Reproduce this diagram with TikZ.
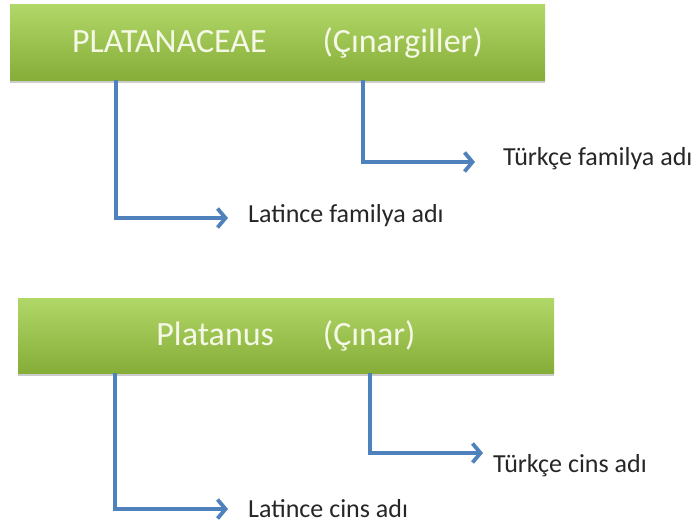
\documentclass[tikz,border=0pt]{standalone}
\usepackage{fontspec}
\setmainfont{Carlito}
\definecolor{LeafTop}{HTML}{B1D768}
\definecolor{LeafMid}{HTML}{9CC64A}
\definecolor{LeafBottom}{HTML}{86AD38}
\definecolor{ArrowBlue}{HTML}{4F81BD}
\definecolor{BoxText}{HTML}{F5F8E6}
\usetikzlibrary{
  arrows.meta,
  positioning,
  shadows
}

\begin{document}
\begin{tikzpicture}[
  x=1pt, y=-1pt,
  namebox/.style={
    rectangle, draw=none,
    top color=LeafTop, middle color=LeafMid, bottom color=LeafBottom,
    drop shadow={shadow xshift=0pt, shadow yshift=-2.5pt, fill=black!40},
    inner sep=0pt, text=BoxText,
    font=\fontsize{34}{40}\selectfont
  },
  labelbox/.style={
    anchor=west, inner sep=0pt, text=black!85,
    font=\fontsize{26}{31}\selectfont
  },
  conn/.style={
    -{Straight Barb[length=8pt,width=19pt]}, line width=3.8pt, ArrowBlue
  }
]
  \useasboundingbox (0,0) rectangle (698,527);

  % Family (top)
  \node[namebox, minimum width=535pt, minimum height=75pt] (famname)
    at (277.5,42.5) {PLATANACEAE\hspace{56pt}(Çınargiller)};
  \node[labelbox] (latfam) at (248,216) {Latince familya adı};
  \node[labelbox] (turfam) at (503,159) {Türkçe familya adı};

  % Genus (bottom)
  \node[namebox, minimum width=536pt, minimum height=75pt] (genname)
    at (286,335.5) {Platanus\hspace{49pt}(Çınar)};
  \node[labelbox] (latgen) at (248,509) {Latince cins adı};
  \node[labelbox] (turgen) at (493,466) {Türkçe cins adı};

  % Connections
  \draw[conn, shorten >=20pt] ([xshift=106pt]famname.south west) |- ([yshift=-2pt]latfam.west);
  \draw[conn, shorten >=28pt] ([xshift=353pt]famname.south west) |- ([yshift=-3pt]turfam.west);
  \draw[conn, shorten >=20pt] ([xshift=97pt]genname.south west) |- (latgen.west);
  \draw[conn, shorten >=10pt] ([xshift=352pt]genname.south west) |- ([yshift=13pt]turgen.west);
\end{tikzpicture}
\end{document}
